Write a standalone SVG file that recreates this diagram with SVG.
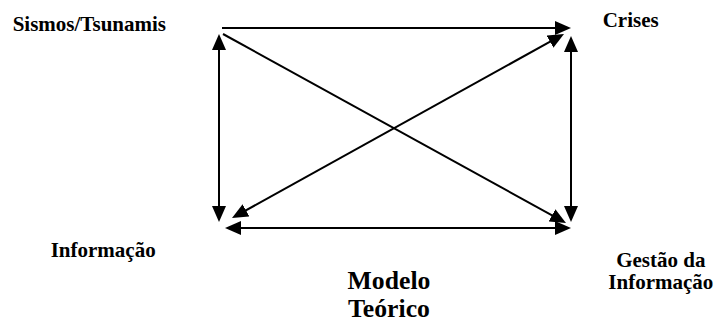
<svg xmlns="http://www.w3.org/2000/svg" width="719" height="325" viewBox="0 0 719 325">
  <style>
    .lbl { font-family: "Liberation Serif", "Times New Roman", serif; font-weight: bold; font-size: 21px; fill: #000; }
    .title { font-family: "Liberation Serif", "Times New Roman", serif; font-weight: bold; font-size: 25.7px; fill: #000; }
    .edge { stroke: #000; stroke-width: 2; fill: none; }
  </style>
  <defs>
    <marker id="ah" viewBox="0 0 16 14" refX="12" refY="7" markerWidth="16" markerHeight="14" markerUnits="userSpaceOnUse" orient="auto-start-reverse">
      <path d="M0,0 L16,7 L0,14 z" fill="#000"/>
    </marker>
  </defs>
  <rect width="719" height="325" fill="#fff"/>
  <g id="connectors">
    <line class="edge" x1="222" y1="28" x2="567" y2="28" marker-end="url(#ah)"/>
    <line class="edge" x1="223" y1="34" x2="562.5" y2="221.1" marker-end="url(#ah)"/>
    <line class="edge" x1="219" y1="38" x2="219" y2="218" marker-start="url(#ah)" marker-end="url(#ah)"/>
    <line class="edge" x1="229" y1="228" x2="567" y2="228" marker-start="url(#ah)" marker-end="url(#ah)"/>
    <line class="edge" x1="235.5" y1="216.1" x2="560.5" y2="35.9" marker-start="url(#ah)" marker-end="url(#ah)"/>
    <line class="edge" x1="571" y1="40" x2="571" y2="218" marker-start="url(#ah)" marker-end="url(#ah)"/>
  </g>
  <g id="sismos">
    <text class="lbl" x="12.7" y="31">Sismos/Tsunamis</text>
  </g>
  <g id="crises">
    <text class="lbl" x="602.7" y="26.7">Crises</text>
  </g>
  <g id="informacao">
    <text class="lbl" x="50.7" y="257.3">Informação</text>
  </g>
  <g id="gestao">
    <text class="lbl" x="660.8" y="266.7" text-anchor="middle">Gestão da</text>
    <text class="lbl" x="660.8" y="289.3" text-anchor="middle">Informação</text>
  </g>
  <g id="modelo">
    <text class="title" x="389" y="289.3" text-anchor="middle">Modelo</text>
    <text class="title" x="389" y="316.7" text-anchor="middle">Teórico</text>
  </g>
</svg>
